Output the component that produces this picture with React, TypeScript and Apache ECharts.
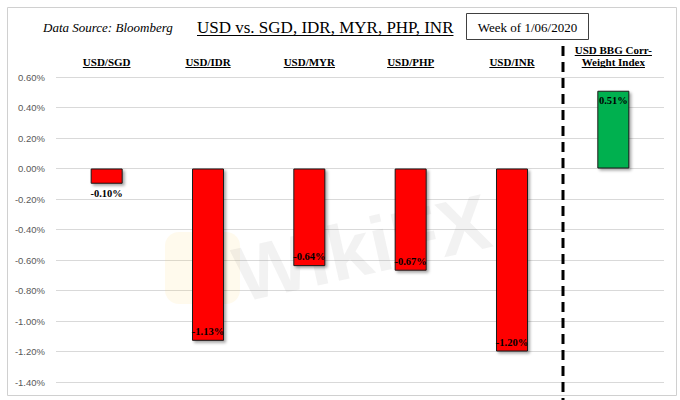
import React, { useEffect, useRef } from 'react';
import * as echarts from 'echarts';

// weekly % change, week of 1/06/2020
const categories = ['USD/SGD', 'USD/IDR', 'USD/MYR', 'USD/PHP', 'USD/INR', 'USD BBG Corr-\nWeight Index'];
const weeklyChange = [-0.1, -1.13, -0.64, -0.67, -1.2, 0.51];
const yMin = -1.4;
const yMax = 0.6;
const yStep = 0.2;

const SERIF = '"Liberation Serif", "Times New Roman", serif';
const SANS = '"Liberation Sans", Arial, sans-serif';

const measure = (text: string, font: string) => {
  const ctx = document.createElement('canvas').getContext('2d');
  if (!ctx) return text.length * 6;
  ctx.font = font;
  return ctx.measureText(text).width;
};

const labelPos = (v: number) => (v > 0 ? 'insideTop' : v > -0.2 ? 'bottom' : 'insideBottom');

const App: React.FC = () => {
  const chartRef = useRef<HTMLDivElement>(null);

  useEffect(() => {
    document.body.style.margin = '0';
    if (!chartRef.current) return;
    const chart = echarts.init(chartRef.current, null, { renderer: 'svg' });

    const option: echarts.EChartsOption = {
      animation: false,
      backgroundColor: '#fff',
      title: {
        text: 'USD vs. SGD, IDR, MYR, PHP, INR',
        left: 192,
        top: 12,
        textStyle: { fontFamily: SERIF, fontSize: 17, fontWeight: 'normal', color: '#000', lineHeight: 20 },
      },
      grid: { left: 56, right: 16, top: 77, bottom: 18 },
      xAxis: {
        type: 'category',
        data: categories,
        position: 'top',
        axisLine: { show: false, onZero: false },
        axisTick: { show: false },
        axisLabel: {
          margin: 9,
          interval: 0,
          fontFamily: SERIF,
          fontWeight: 'bold',
          fontSize: 11,
          lineHeight: 12,
          color: '#000',
        },
      },
      yAxis: {
        type: 'value',
        min: yMin,
        max: yMax,
        interval: yStep,
        axisLine: { show: false },
        axisTick: { show: false },
        splitLine: { lineStyle: { color: '#d9d9d9', width: 1 } },
        axisLabel: {
          margin: 11,
          fontFamily: SANS,
          fontSize: 9.5,
          color: '#595959',
          formatter: (v: number) => v.toFixed(2) + '%',
        },
      },
      series: [
        {
          type: 'bar',
          barWidth: 32,
          data: weeklyChange.map((v) => ({
            value: v,
            itemStyle: { color: v >= 0 ? '#00b050' : '#ff0000' },
            label: { position: labelPos(v) },
          })),
          itemStyle: {
            borderColor: '#1a1a1a',
            borderWidth: 1,
            shadowColor: 'rgba(0,0,0,0.35)',
            shadowBlur: 3,
            shadowOffsetX: 2,
            shadowOffsetY: 2,
          },
          label: {
            show: true,
            distance: 4,
            fontFamily: SERIF,
            fontWeight: 'bold',
            fontSize: 10.5,
            color: '#000',
            formatter: (p: any) => Number(p.value).toFixed(2) + '%',
          },
        },
      ],
    };
    chart.setOption(option);

    const g: any[] = [];
    // outer frame
    g.push({
      type: 'rect',
      silent: true,
      z: 0,
      shape: { x: 7.5, y: 7.5, width: 669, height: 388 },
      style: { fill: 'none', stroke: '#d0d0d0', lineWidth: 1 },
    });
    // faint watermark
    g.push({
      type: 'rect',
      silent: true,
      z: 0,
      shape: { x: 165, y: 232, width: 75, height: 72, r: 14 },
      style: { fill: 'rgba(255,214,110,0.12)' },
    });
    g.push({
      type: 'text',
      silent: true,
      z: 0,
      x: 362,
      y: 248,
      rotation: 0.22,
      style: {
        text: 'WikiFX',
        font: `bold 78px ${SANS}`,
        fill: 'rgba(140,140,140,0.11)',
        align: 'center',
        verticalAlign: 'middle',
      },
    });
    // header
    g.push({
      type: 'text',
      x: 43,
      y: 27,
      style: {
        text: 'Data Source: Bloomberg',
        font: `italic 13px ${SERIF}`,
        fill: '#000',
        verticalAlign: 'middle',
      },
    });
    const titleX = 197;
    const titleW = measure('USD vs. SGD, IDR, MYR, PHP, INR', `17px ${SERIF}`);
    g.push({
      type: 'line',
      shape: { x1: titleX, y1: 35.5, x2: titleX + titleW, y2: 35.5 },
      style: { stroke: '#000', lineWidth: 1 },
    });
    g.push({
      type: 'rect',
      shape: { x: 466.5, y: 13.5, width: 122, height: 26 },
      style: { fill: '#fff', stroke: '#404040', lineWidth: 1 },
    });
    g.push({
      type: 'text',
      x: 527.5,
      y: 27,
      style: {
        text: 'Week of 1/06/2020',
        font: `13px ${SERIF}`,
        fill: '#000',
        align: 'center',
        verticalAlign: 'middle',
      },
    });

    // underline the category labels
    const catFont = `bold 11px ${SERIF}`;
    categories.forEach((c, i) => {
      const cx = chart.convertToPixel({ xAxisIndex: 0 }, i) as number;
      const lines = c.split('\n');
      lines.forEach((ln, j) => {
        const w = measure(ln, catFont);
        const y = 67.5 - (lines.length - 1 - j) * 12;
        g.push({
          type: 'line',
          shape: { x1: cx - w / 2, y1: y, x2: cx + w / 2, y2: y },
          style: { stroke: '#000', lineWidth: 1 },
        });
      });
    });

    // dashed divider between the pairs and the index
    const last = categories.length - 1;
    const xa = chart.convertToPixel({ xAxisIndex: 0 }, last - 1) as number;
    const xb = chart.convertToPixel({ xAxisIndex: 0 }, last) as number;
    const dx = Math.round((xa + xb) / 2);
    g.push({
      type: 'line',
      z: 5,
      shape: { x1: dx, y1: 46, x2: dx, y2: 400 },
      style: { stroke: '#000', lineWidth: 3, lineDash: [10, 6] },
    });

    chart.setOption({ graphic: g });

    return () => {
      chart.dispose();
    };
  }, []);

  return <div ref={chartRef} style={{ width: 680, height: 400 }} />;
};

export default App;
